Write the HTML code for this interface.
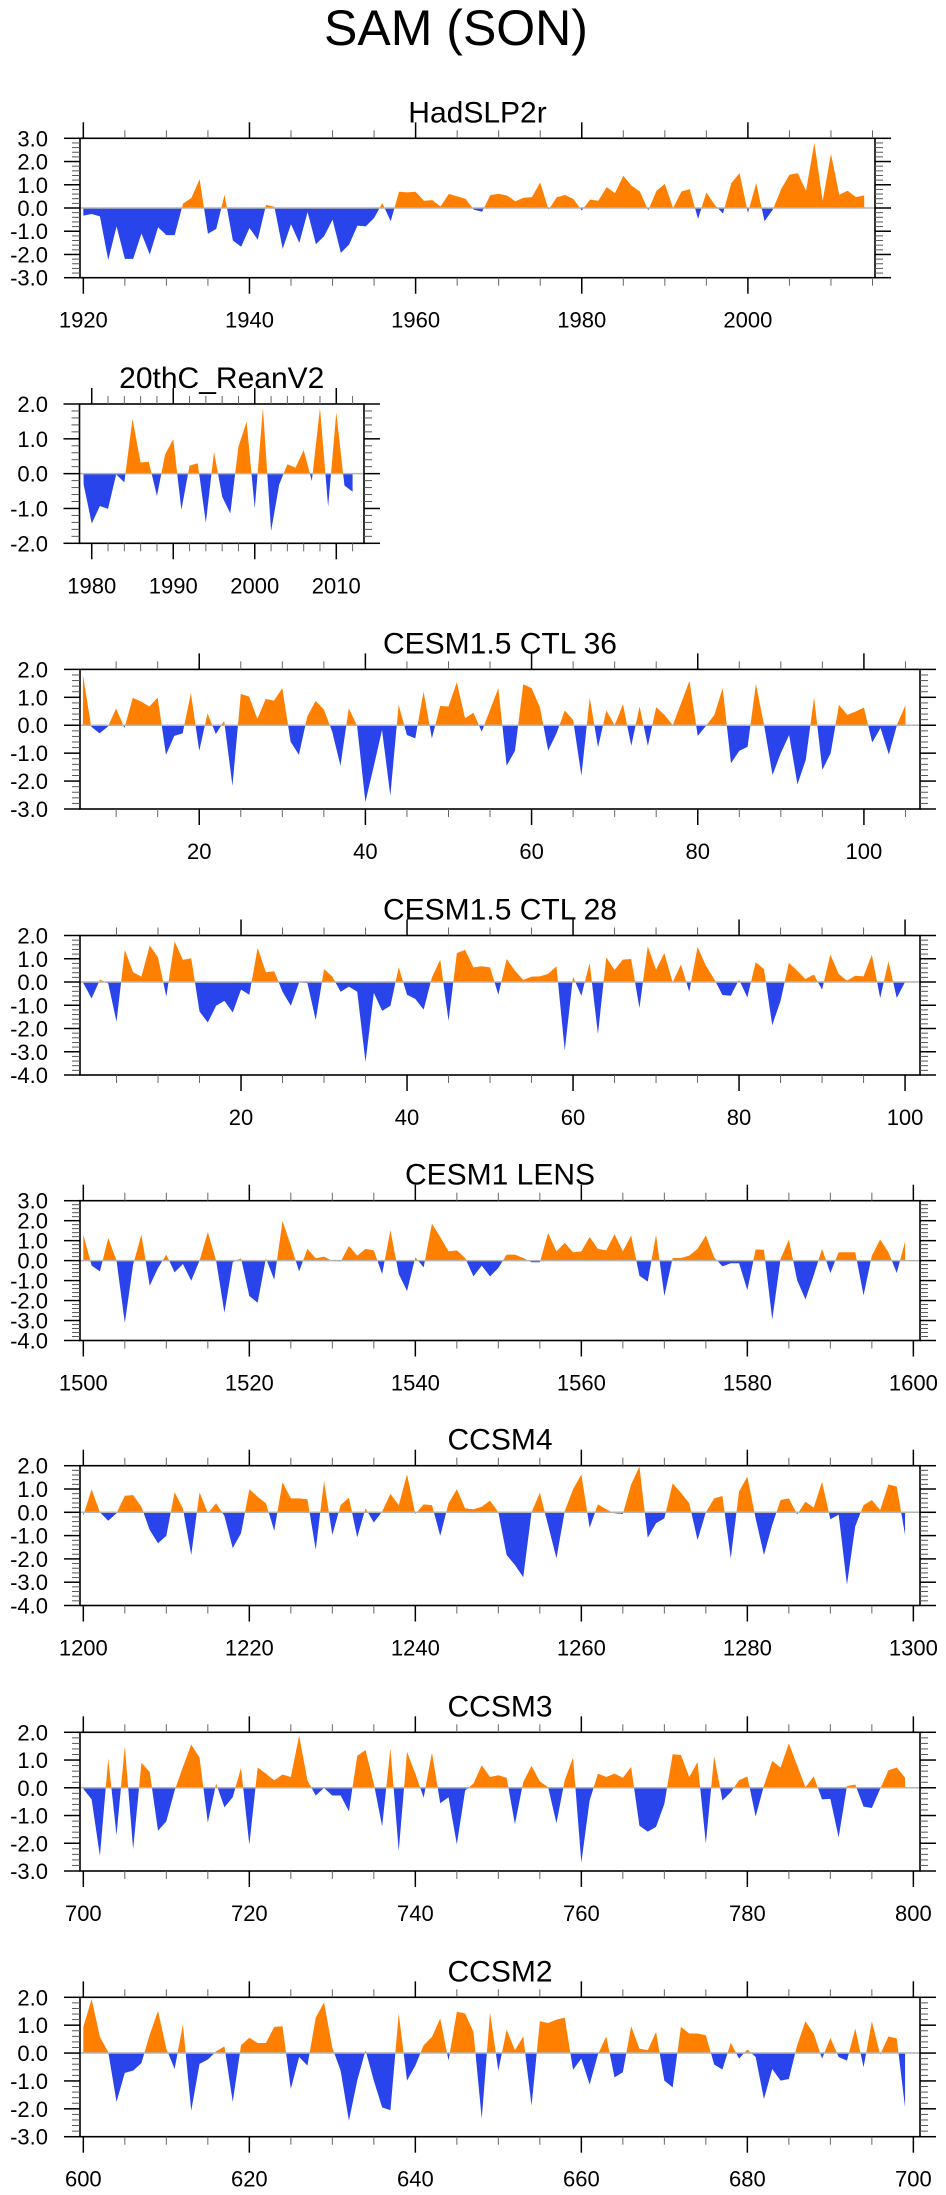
<!DOCTYPE html>
<html><head><meta charset="utf-8">
<style>
html,body{margin:0;padding:0;background:#fff;}
svg{display:block;}
text{font-family:"Liberation Sans",Arial,sans-serif;fill:#000;}
</style></head>
<body>
<svg id="fig" width="946" height="2195" viewBox="0 0 946 2195" xmlns="http://www.w3.org/2000/svg">
<rect x="0" y="0" width="946" height="2195" fill="#fff"/>
<text x="456" y="45" font-size="50" text-anchor="middle">SAM (SON)</text>
</svg>
<script>
// ---- data (value arrays, first x-value per series) ----
const hadStart = 1920;
const hadValues = [-0.33,-0.26,-0.36,-2.24,-0.79,-2.19,-2.19,-1.1,-2.0,-0.83,-1.17,-1.17,0.19,0.43,1.24,-1.11,-0.9,0.57,-1.4,-1.67,-0.86,-1.36,0.14,0.05,-1.76,-0.7,-1.5,-0.17,-1.56,-1.21,-0.5,-1.93,-1.57,-0.76,-0.79,-0.43,0.21,-0.57,0.7,0.67,0.7,0.31,0.34,0.07,0.61,0.5,0.4,-0.07,-0.16,0.56,0.61,0.54,0.29,0.44,0.47,1.1,-0.07,0.46,0.56,0.39,-0.11,0.36,0.31,0.9,0.64,1.39,0.96,0.71,-0.1,0.74,1.04,0.0,0.71,0.81,-0.47,0.67,0.14,-0.24,1.07,1.5,-0.21,1.07,-0.57,-0.07,0.81,1.43,1.5,0.74,2.81,0.31,2.33,0.57,0.74,0.47,0.54];
const reanStart = 1979;
const reanValues = [-0.3,-1.43,-0.93,-1.01,-0.02,-0.25,1.57,0.32,0.34,-0.64,0.55,0.99,-1.04,0.23,0.3,-1.41,0.63,-0.66,-1.14,0.78,1.49,-1.0,1.89,-1.65,-0.31,0.27,0.17,0.68,-0.21,1.89,-0.95,1.76,-0.34,-0.52];
const ctl36Start = 6;
const ctl36Values = [1.81,-0.05,-0.29,-0.05,0.6,-0.1,0.98,0.85,0.67,0.99,-1.06,-0.38,-0.29,1.15,-0.92,0.43,-0.32,0.16,-2.17,1.12,1.03,0.23,0.94,0.88,1.33,-0.59,-1.06,0.31,0.87,0.57,-0.23,-1.45,0.61,-0.02,-2.75,-1.48,-0.17,-2.52,0.73,-0.35,-0.47,1.21,-0.47,0.69,0.67,1.54,0.25,0.45,-0.23,0.55,1.33,-1.45,-0.92,1.47,1.33,0.65,-0.91,-0.29,0.53,0.19,-1.81,0.99,-0.79,0.53,0.0,0.75,-0.74,0.67,-0.74,0.65,0.37,0.0,0.79,1.59,-0.38,-0.02,0.37,1.33,-1.36,-0.92,-0.77,1.48,-0.02,-1.78,-1.0,-0.35,-2.12,-1.24,1.0,-1.6,-1.0,0.73,0.37,0.49,0.63,-0.62,-0.1,-1.05,0.03,0.72];
const ctl28Start = 1;
const ctl28Values = [-0.05,-0.71,0.1,-0.06,-1.71,1.38,0.42,0.23,1.57,1.06,-0.63,1.74,0.95,1.02,-1.27,-1.74,-1.02,-0.81,-1.31,-0.33,-0.55,1.47,0.42,0.46,-0.42,-1.02,-0.02,-0.05,-1.64,0.56,0.23,-0.42,-0.2,-0.42,-3.44,-0.47,-1.24,-1.02,0.63,-0.55,-0.73,-1.19,0.2,0.96,-1.67,1.24,1.38,0.63,0.68,0.63,-0.55,0.99,0.49,0.09,0.23,0.24,0.35,0.68,-2.94,0.23,-0.59,0.82,-2.24,1.06,0.52,0.96,0.99,-1.12,1.53,0.53,1.24,-0.02,0.75,-0.42,1.5,0.71,0.13,-0.56,-0.59,0.1,-0.66,0.85,0.56,-1.86,-0.81,0.82,0.49,0.13,0.32,-0.33,1.18,0.35,0.06,0.27,0.24,1.17,-0.69,0.89,-0.69,0.0];
const lensStart = 1500;
const lensValues = [1.3,-0.25,-0.54,1.13,0.0,-3.12,-0.2,1.3,-1.26,-0.37,0.3,-0.59,-0.17,-1.01,0.0,1.43,0.0,-2.61,-0.08,0.12,-1.77,-2.11,0.12,-0.96,1.99,0.76,-0.54,0.59,0.12,0.2,-0.02,-0.05,0.73,0.25,0.59,0.51,-0.67,1.52,-0.67,-1.52,0.17,-0.34,1.85,1.18,0.47,0.51,0.13,-0.79,-0.25,-0.79,-0.37,0.3,0.3,0.13,-0.08,-0.08,1.38,0.46,0.89,0.42,0.46,1.18,0.59,0.51,1.32,0.47,1.26,-0.76,-1.05,1.3,-1.77,0.13,0.13,0.25,0.59,1.26,0.17,-0.29,-0.13,-0.13,-1.48,0.56,0.54,-2.95,0.08,1.05,-0.98,-1.94,-0.73,0.59,-0.62,0.42,0.42,0.42,-1.74,0.25,1.06,0.42,-0.62,0.96];
const ccsm4Start = 1200;
const ccsm4Values = [-0.14,0.99,0.0,-0.36,-0.04,0.71,0.74,0.24,-0.76,-1.33,-1.01,0.86,0.17,-1.83,0.86,-0.04,0.39,-0.16,-1.54,-0.9,0.99,0.67,0.39,-0.79,1.29,0.6,0.6,0.56,-1.61,1.34,-0.97,0.31,0.63,-1.07,0.17,-0.44,0.03,0.79,0.31,1.63,-0.07,0.34,0.31,-1.01,0.39,0.99,0.17,0.13,0.24,0.5,0.0,-1.83,-2.26,-2.79,0.0,0.84,-0.56,-1.97,0.05,0.99,1.63,-0.66,0.34,0.13,-0.04,-0.07,1.2,1.96,-1.09,-0.47,-0.26,1.24,0.84,0.39,-1.19,0.0,0.6,0.7,-1.97,0.89,1.53,-0.26,-1.83,-0.54,0.53,0.6,-0.09,0.46,0.2,1.31,-0.3,-0.1,-3.11,-0.6,0.31,0.53,0.1,1.2,1.1,-0.97];
const ccsm3Start = 700;
const ccsm3Values = [-0.04,-0.42,-2.46,1.05,-1.71,1.5,-2.22,0.9,0.57,-1.55,-1.21,-0.1,0.75,1.56,1.09,-1.25,0.15,-0.7,-0.34,0.72,-2.06,0.73,0.51,0.27,0.48,0.39,1.88,0.27,-0.28,-0.01,-0.28,-0.28,-0.85,1.15,1.36,0.15,-1.39,1.42,-2.28,1.3,0.51,-0.36,1.27,-0.56,-0.34,-2.04,-0.1,0.15,0.81,0.39,0.45,0.36,-1.31,0.21,0.79,0.23,0.02,-1.28,0.27,1.09,-2.7,-0.46,0.51,0.39,0.51,0.36,0.75,-1.37,-1.58,-1.41,-0.58,1.21,1.18,0.39,0.93,-2.01,1.14,-0.46,-0.16,0.27,0.41,-1.04,0.08,0.97,0.73,1.6,0.81,0.02,0.41,-0.42,-0.4,-1.79,0.06,0.12,-0.68,-0.73,-0.04,0.63,0.73,0.36];
const ccsm2Start = 600;
const ccsm2Values = [0.94,1.94,0.58,0.04,-1.75,-0.71,-0.63,-0.36,0.66,1.51,0.16,-0.57,1.02,-2.07,-0.39,-0.23,0.06,0.24,-1.75,0.28,0.55,0.36,0.36,0.94,0.96,-1.29,-0.14,-0.45,1.27,1.82,0.19,-0.63,-2.43,-0.99,0.1,-0.99,-1.95,-2.05,1.42,-0.99,-0.45,0.28,0.58,1.24,-0.27,1.48,1.42,0.76,-2.35,1.46,-0.63,0.84,0.1,0.6,-1.89,1.14,1.08,1.2,1.27,-0.6,-0.2,-1.13,-0.05,0.6,-0.87,-0.69,0.96,0.16,0.1,0.76,-0.99,-1.23,0.94,0.7,0.7,0.64,-0.41,-0.59,0.37,-0.2,0.13,-0.14,-1.65,-0.57,-0.99,-0.93,0.28,1.14,0.7,-0.2,0.54,-0.14,-0.27,0.88,-0.51,1.14,-0.06,0.6,0.52,-1.95];
const panelTitles = ["HadSLP2r","20thC_ReanV2","CESM1.5 CTL 36","CESM1.5 CTL 28","CESM1 LENS","CCSM4","CCSM3","CCSM2"];

// ---- layout ----
const NS = "http://www.w3.org/2000/svg";
const svg = document.getElementById("fig");
const POS = "#FF8000", NEG = "#2844EA";
function mk(tag, attrs, parent){
  const e = document.createElementNS(NS, tag);
  for (const k in attrs) e.setAttribute(k, attrs[k]);
  (parent||svg).appendChild(e);
  return e;
}
const panels = [
 {key:"hadslp2r", start:hadStart, vals:hadValues, bx0:80, bx1:875, by0:138.3, by1:277.7, xmin:1919.6, xmax:2015.3, ymin:-3, ymax:3, xMaj:20, xMin:5},
 {key:"20thc-reanv2", start:reanStart, vals:reanValues, bx0:79.5, bx1:364, by0:404, by1:543.3, xmin:1978.5, xmax:2013.4, ymin:-2, ymax:2, xMaj:10, xMin:2},
 {key:"cesm15-ctl36", start:ctl36Start, vals:ctl36Values, bx0:80, bx1:920, by0:669.4, by1:809, xmin:5.65, xmax:106.75, ymin:-3, ymax:2, xMaj:20, xMin:5},
 {key:"cesm15-ctl28", start:ctl28Start, vals:ctl28Values, bx0:80, bx1:920, by0:935.5, by1:1075, xmin:0.6, xmax:101.8, ymin:-4, ymax:2, xMaj:20, xMin:5},
 {key:"cesm1-lens", start:lensStart, vals:lensValues, bx0:80, bx1:920, by0:1200.7, by1:1340.5, xmin:1499.6, xmax:1600.8, ymin:-4, ymax:3, xMaj:20, xMin:5},
 {key:"ccsm4", start:ccsm4Start, vals:ccsm4Values, bx0:80, bx1:920, by0:1465.7, by1:1605.5, xmin:1199.6, xmax:1300.8, ymin:-4, ymax:2, xMaj:20, xMin:5},
 {key:"ccsm3", start:ccsm3Start, vals:ccsm3Values, bx0:80, bx1:920, by0:1732.3, by1:1871, xmin:699.6, xmax:800.8, ymin:-3, ymax:2, xMaj:20, xMin:5},
 {key:"ccsm2", start:ccsm2Start, vals:ccsm2Values, bx0:80, bx1:920, by0:1997.3, by1:2136.7, xmin:599.6, xmax:700.8, ymin:-3, ymax:2, xMaj:20, xMin:5}
];

panels.forEach((p, pi) => {
  const g = mk("g", {});
  
  
  const xs = v => p.bx0 + (v - p.xmin) / (p.xmax - p.xmin) * (p.bx1 - p.bx0);
  const ys = v => p.by1 - (v - p.ymin) / (p.ymax - p.ymin) * (p.by1 - p.by0);
  const y0 = ys(0);

  // title
  const t = mk("text", {x:(p.bx0+p.bx1)/2, y:p.by0-16, "font-size":30, "text-anchor":"middle"}, g);
  t.textContent = panelTitles[pi];
  
  

  // clip paths
  const cpA = mk("clipPath", {id:"ca"+pi}, g);
  mk("rect", {x:p.bx0, y:p.by0, width:p.bx1-p.bx0, height:y0-p.by0}, cpA);
  const cpB = mk("clipPath", {id:"cb"+pi}, g);
  mk("rect", {x:p.bx0, y:y0, width:p.bx1-p.bx0, height:p.by1-y0}, cpB);

  let d = "M" + xs(p.start).toFixed(2) + "," + y0.toFixed(2);
  p.vals.forEach((v, i) => { d += " L" + xs(p.start + i).toFixed(2) + "," + ys(v).toFixed(2); });
  d += " L" + xs(p.start + p.vals.length - 1).toFixed(2) + "," + y0.toFixed(2) + " Z";
  const pos = mk("path", {d:d, fill:POS, "clip-path":"url(#ca"+pi+")"}, g);
  
  
  const neg = mk("path", {d:d, fill:NEG, "clip-path":"url(#cb"+pi+")"}, g);
  
  

  // zero reference line
  const zl = mk("line", {x1:p.bx0, x2:p.bx1, y1:y0, y2:y0, stroke:"#b4b4b4", "stroke-width":1.5}, g);
  
  

  // frame
  const fr = mk("rect", {x:p.bx0, y:p.by0, width:p.bx1-p.bx0, height:p.by1-p.by0, fill:"none", stroke:"#000", "stroke-width":1.6}, g);
  
  

  // y ticks
  const nMinY = Math.round((p.ymax - p.ymin) / 0.2);
  for (let k = 0; k <= nMinY; k++) {
    const v = p.ymin + k * 0.2;
    const yy = ys(v);
    const major = (k % 5 === 0);
    const len = major ? 16 : 8;
    mk("line", {x1:p.bx0-len, x2:p.bx0, y1:yy, y2:yy, stroke: major?"#000":"#555", "stroke-width": major?1.5:1}, g);
    mk("line", {x1:p.bx1, x2:p.bx1+len, y1:yy, y2:yy, stroke: major?"#000":"#555", "stroke-width": major?1.5:1}, g);
    if (major) {
      const lb = mk("text", {x:48, y:yy+8, "font-size":22, "text-anchor":"end"}, g);
      lb.textContent = Math.round(v).toFixed(1);
      
      
    }
  }
  // x ticks
  for (let v = Math.ceil(p.xmin / p.xMin) * p.xMin; v <= p.xmax; v += p.xMin) {
    const xx = xs(v);
    const major = (v % p.xMaj === 0);
    const len = major ? 16 : 8;
    mk("line", {x1:xx, x2:xx, y1:p.by0-len, y2:p.by0, stroke: major?"#000":"#666", "stroke-width": major?1.5:1}, g);
    mk("line", {x1:xx, x2:xx, y1:p.by1, y2:p.by1+len, stroke: major?"#000":"#666", "stroke-width": major?1.5:1}, g);
    if (major) {
      const lb = mk("text", {x:xx, y:p.by1+50, "font-size":22, "text-anchor":"middle"}, g);
      lb.textContent = String(v);
      
      
    }
  }
});
</script>
</body></html>
